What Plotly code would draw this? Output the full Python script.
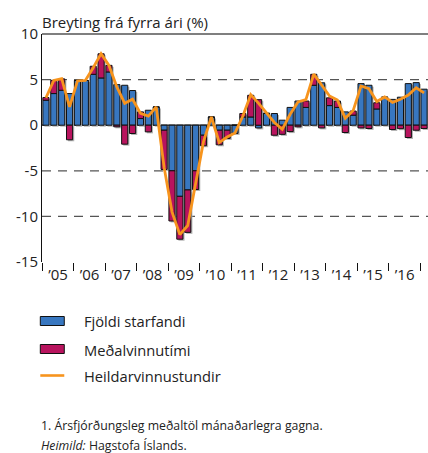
import plotly.graph_objects as go

# ---------------- data ----------------
years = ["’05", "’06", "’07", "’08", "’09", "’10", "’11", "’12", "’13", "’14", "’15", "’16"]
quarters = [f"{2005 + i // 4}Q{i % 4 + 1}" for i in range(49)]

fjoldi_starfandi = [
    2.74, 3.47, 3.83, 3.47,
    4.90, 4.90, 5.58, 5.18,
    5.84, 4.45, 4.38, 3.80,
    0.73, 1.64, 2.00, -0.55,
    -5.00, -7.80, -7.10, -5.00,
    -1.10, 0.90, -0.55, -0.55,
    -0.90, 0.90, 0.90, -0.30,
    1.30, 1.28, 0.55, 1.95,
    2.65, 1.95, 4.38, 4.65,
    2.15, 1.95, 1.46, 1.10,
    4.56, 4.38, 1.78, 3.07,
    2.83, 3.07, 4.56, 4.67,
    3.95,
]
medalvinnutimi = [
    0.29, 1.45, 1.25, -1.60,
    0.00, 0.00, 0.88, 2.65,
    0.72, -0.18, -2.08, -0.91,
    0.73, -0.73, 0.00, -4.30,
    -5.50, -4.70, -4.65, -2.05,
    -1.15, 0.00, -1.60, -0.90,
    0.00, 0.38, 2.38, 2.80,
    0.00, -1.10, -1.00, -0.70,
    -0.18, 0.70, 1.20, -0.30,
    0.85, 0.70, -0.80, 0.45,
    -0.30, -0.36, 0.68, 0.00,
    -0.47, -0.38, -1.35, -0.55,
    -0.36,
]
heildarvinnustundir = [
    3.00, 4.90, 5.10, 2.00,
    4.85, 4.90, 6.30, 7.85,
    6.55, 4.20, 2.40, 2.85,
    1.30, 1.00, 2.00, -4.60,
    -9.50, -12.00, -11.00, -6.50,
    -1.80, 0.90, -1.90, -1.30,
    -0.85, 1.00, 3.35, 2.40,
    1.30, 0.30, -0.45, 1.20,
    2.55, 2.80, 5.60, 4.40,
    3.20, 2.75, 0.75, 1.60,
    4.30, 4.00, 2.60, 3.10,
    2.50, 2.85, 3.30, 4.10,
    3.55,
]
series_names = ["Fjöldi starfandi", "Meðalvinnutími", "Heildarvinnustundir"]
y_ticks = [-15, -10, -5, 0, 5, 10]

# ---------------- style ----------------
BLUE = "#3877c0"
CRIMSON = "#b8145e"
ORANGE = "#f7941d"
SHADOW = "#b4b4b4"
FONT = "Open Sans"

W, H = 428, 453
L, R, T, B = 41.7, 0, 34, 191
plot_w = W - L - R
plot_h = H - T - B

xpos = list(range(len(quarters)))
n = len(quarters)
xr = [-0.5, n - 0.5]
yr = [-15, 10]
tick_pos = [-0.5 + 4 * k for k in range(len(years) + 1)]
tick_txt = years + [""]

# shadow offsets (in data units) -> small shift right and down
dx = 1.6 / (plot_w / (xr[1] - xr[0]))
dy = 1.5 / (plot_h / (yr[1] - yr[0]))

fig = go.Figure()

# shadow traces on base axes
for vals in (fjoldi_starfandi, medalvinnutimi):
    fig.add_trace(go.Bar(x=xpos, y=vals, marker=dict(color=SHADOW, line=dict(width=0)),
                         xaxis="x", yaxis="y", showlegend=False, hoverinfo="skip"))

# main traces on overlaying axes
fig.add_trace(go.Bar(x=xpos, y=fjoldi_starfandi, name=series_names[0],
                     marker=dict(color=BLUE, line=dict(color="#111111", width=1)),
                     xaxis="x2", yaxis="y2", showlegend=False))
fig.add_trace(go.Bar(x=xpos, y=medalvinnutimi, name=series_names[1],
                     marker=dict(color=CRIMSON, line=dict(color="#111111", width=1)),
                     xaxis="x2", yaxis="y2", showlegend=False))
fig.add_trace(go.Scatter(x=xpos, y=heildarvinnustundir, name=series_names[2], mode="lines",
                         line=dict(color=ORANGE, width=2.8), xaxis="x2", yaxis="y2",
                         showlegend=False))

shapes = []
for v in (5, -5, -10):
    shapes.append(dict(type="line", xref="paper", yref="y2", x0=0, x1=1, y0=v, y1=v,
                       line=dict(color="#555555", width=1.2, dash="9px,7px"), layer="below"))
# zero line
shapes.append(dict(type="line", xref="paper", yref="y2", x0=0, x1=1, y0=0, y1=0,
                   line=dict(color="#111111", width=1.2), layer="below"))
# top border line
shapes.append(dict(type="line", xref="paper", yref="paper", x0=0, x1=1, y0=1, y1=1,
                   line=dict(color="#555555", width=1.5), layer="above"))


def px_x(p):
    return (p - L) / plot_w


def px_y(p):
    return (H - B - p) / plot_h


annotations = []
# legend (drawn manually)
leg_rows = [321, 349, 375.5]
for i, yy in enumerate(leg_rows[:2]):
    col = [BLUE, CRIMSON][i]
    shapes.append(dict(type="rect", xref="paper", yref="paper",
                       x0=px_x(40), x1=px_x(64), y0=px_y(yy - 4.5), y1=px_y(yy + 4.5),
                       fillcolor=col, line=dict(color="#111111", width=1)))
shapes.append(dict(type="line", xref="paper", yref="paper",
                   x0=px_x(40), x1=px_x(64), y0=px_y(leg_rows[2]), y1=px_y(leg_rows[2]),
                   line=dict(color=ORANGE, width=2.6)))
for i, yy in enumerate(leg_rows):
    annotations.append(dict(text=series_names[i], xref="paper", yref="paper",
                            x=px_x(82), y=px_y(yy + 0.5), xanchor="left", yanchor="middle",
                            showarrow=False, font=dict(family=FONT, size=14.7, color="#222222")))

# title
annotations.append(dict(text="Breyting frá fyrra ári (%)", xref="paper", yref="paper",
                        x=px_x(40), y=px_y(21.5), xanchor="left", yanchor="middle",
                        showarrow=False, font=dict(family=FONT, size=15, color="#222222")))
# footnotes
annotations.append(dict(text="1. Ársfjórðungsleg meðaltöl mánaðarlegra gagna.", xref="paper", yref="paper",
                        x=px_x(39), y=px_y(425), xanchor="left", yanchor="middle",
                        showarrow=False, font=dict(family=FONT, size=12.3, color="#222222")))
annotations.append(dict(text="<i>Heimild:</i> Hagstofa Íslands.", xref="paper", yref="paper",
                        x=px_x(39), y=px_y(446), xanchor="left", yanchor="middle",
                        showarrow=False, font=dict(family=FONT, size=12.3, color="#222222")))

fig.update_layout(
    width=W, height=H,
    margin=dict(l=L, r=R, t=T, b=B),
    paper_bgcolor="white", plot_bgcolor="white",
    barmode="relative", bargap=0.22,
    font=dict(family=FONT, size=15, color="#222222"),
    xaxis=dict(range=[xr[0] - dx, xr[1] - dx], visible=False, fixedrange=True),
    yaxis=dict(range=[yr[0] + dy, yr[1] + dy], visible=False, fixedrange=True),
    xaxis2=dict(range=xr, overlaying="x", side="bottom", showgrid=False, zeroline=False,
                showline=False, tickmode="array", tickvals=tick_pos, ticktext=tick_txt,
                ticks="outside", ticklen=8, tickwidth=1, tickcolor="#111111",
                ticklabelshift=16, ticklabelstandoff=-9,
                tickfont=dict(family=FONT, size=15, color="#222222")),
    yaxis2=dict(range=yr, overlaying="y", side="left", showgrid=False, zeroline=False,
                showline=True, linecolor="#111111", linewidth=1,
                tickmode="array", tickvals=y_ticks, ticktext=[str(v) for v in y_ticks],
                ticks="", tickfont=dict(family=FONT, size=15, color="#222222")),
    shapes=shapes,
    annotations=annotations,
    showlegend=False,
)

fig.write_html("out.html", config={"displayModeBar": False},
               post_script="document.body.style.margin='0';document.body.style.overflow='hidden';")
